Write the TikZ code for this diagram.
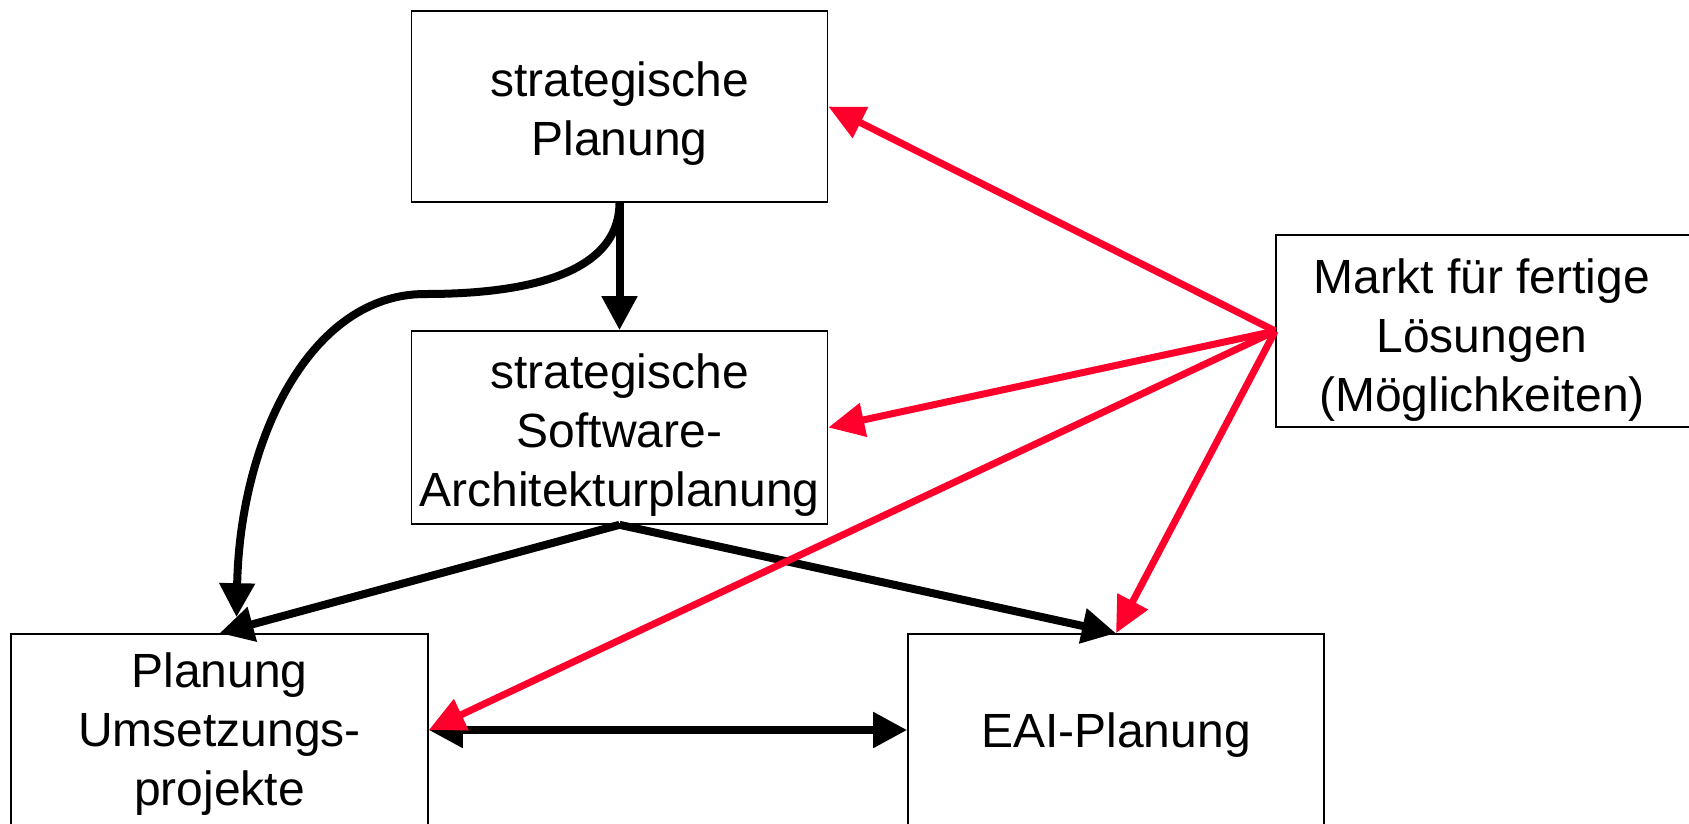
\documentclass[tikz,border=0pt]{standalone}
\usepackage{fontspec}
\setmainfont{Liberation Sans}
\usetikzlibrary{arrows.meta,calc}
\definecolor{arrred}{RGB}{255,0,45}
\begin{document}
\begin{tikzpicture}[x=1pt,y=-1pt,
  box/.style={draw=black,line width=1.6pt,rectangle,inner sep=0pt,fill=white},
  txt/.style={inner sep=0pt,align=center,font=\fontsize{48}{59}\selectfont},
  blk/.style={draw=black,line width=8pt,-{Triangle[length=34pt,width=34pt]}},
  redarr/.style={draw=arrred,line width=7pt,-{Triangle[length=36pt,width=33pt]}}]
\useasboundingbox (0,0) rectangle (1689,823);
\node[box,minimum width=416pt,minimum height=191pt] (A) at (619.5,106.5) {};
\node[txt] (At) at ($(A.center)+(0,7.5)$) {strategische\\Planung};
\node[box,minimum width=416pt,minimum height=193pt] (B) at (619.5,427.5) {};
\node[txt] (Bt) at ($(B.center)+(0,7.5)$) {strategische\\Software-\\Architekturplanung};
\node[box,minimum width=416pt,minimum height=192pt] (C) at (1484,331) {};
\node[txt] (Ct) at ($(C.center)+(-2,9.5)$) {Markt für fertige\\Lösungen\\(Möglichkeiten)};
\node[box,minimum width=417pt,minimum height=192pt] (D) at (219.5,730) {};
\node[txt] (Dt) at ($(D.center)+(0,4.5)$) {Planung\\Umsetzungs-\\projekte};
\node[box,minimum width=416pt,minimum height=192pt] (E) at (1116,730) {};
\node[txt] (Et) at ($(E.center)+(0,5.5)$) {EAI-Planung};
\coordinate (Dc) at ($(D.north)+(17,-16)$);
\draw[blk] (A.south) -- (B.north);
\draw[blk] (A.south) .. controls (619,280) and (510,294) .. (425,294)
  .. controls (310,294) and (240,440) .. (Dc);
\draw[blk] (B.south) -- (D.north);
\draw[blk] (B.south) -- (E.north);
\draw[blk,{Triangle[length=34pt,width=34pt]}-{Triangle[length=34pt,width=34pt]}] (D.east) -- (E.west);
\draw[redarr] (C.west) -- (A.east);
\draw[redarr] (C.west) -- (B.east);
\draw[redarr] (C.west) -- (D.east);
\draw[redarr] (C.west) -- (E.north);
\end{tikzpicture}
\end{document}
